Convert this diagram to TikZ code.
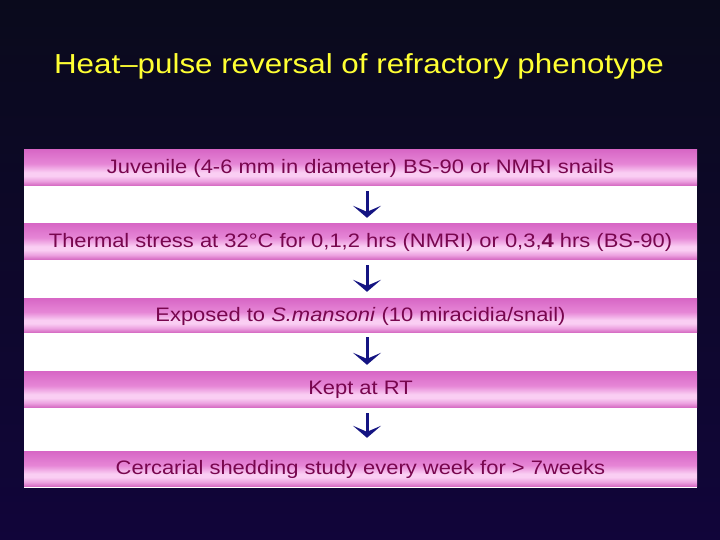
\documentclass[tikz,border=0pt]{standalone}
\usepackage{fontspec}
\setmainfont{Liberation Sans}
\usetikzlibrary{arrows.meta}
\definecolor{bgtop}{RGB}{10,10,28}
\definecolor{bgbot}{RGB}{17,5,58}
\definecolor{titlecol}{RGB}{255,255,51}
\definecolor{txtcol}{RGB}{120,6,78}
\definecolor{arrcol}{RGB}{20,20,130}
\definecolor{ptop}{RGB}{216,104,198}
\definecolor{pmid}{RGB}{230,134,214}
\definecolor{plight}{RGB}{250,206,243}
\definecolor{plow}{RGB}{236,162,224}
\definecolor{pbot}{RGB}{210,98,190}
\pgfdeclareverticalshading{barshade}{100bp}{color(0bp)=(pbot); color(25bp)=(pbot); color(32bp)=(plow); color(39bp)=(plight); color(44bp)=(plight); color(56bp)=(pmid); color(75bp)=(ptop); color(100bp)=(ptop)}
\newcommand{\wide}[1]{\scalebox{1.125}[1]{#1}}
\newcommand{\widet}[1]{\scalebox{1.14}[1]{#1}}
\tikzset{
  bar/.style={shading=barshade, minimum width=673pt, minimum height=35pt, inner sep=0pt,
    text=txtcol, font=\fontsize{19.5}{21}\selectfont},
  arr/.style={draw=arrcol, line width=3pt, -{Stealth[length=12pt, width=28pt, inset=6pt]}},
}
\begin{document}
\begin{tikzpicture}[x=1pt,y=1pt]
\shade[top color=bgtop, bottom color=bgbot] (0,0) rectangle (720,540);
\useasboundingbox (0,0) rectangle (720,540);
\node[text=titlecol, font=\fontsize{27.5}{30}\selectfont] (title) at (359,474) {\widet{Heat–pulse reversal of refractory phenotype}};
\fill[white] (24,52) rectangle (697,390);
\node[bar, minimum height=36pt] (b1) at (360.5,372) {\wide{Juvenile (4-6 mm in diameter) BS-90 or NMRI snails}};
\node[bar, minimum height=36pt] (b2) at (360.5,298) {\wide{Thermal stress at 32°C for 0,1,2 hrs (NMRI) or 0,3,\textbf{4} hrs (BS-90)}};
\node[bar, minimum height=34pt] (b3) at (360.5,224) {\wide{Exposed to \textit{S.mansoni} (10 miracidia/snail)}};
\node[bar, minimum height=36pt] (b4) at (360.5,150) {\wide{Kept at RT}};
\node[bar, minimum height=35pt] (b5) at (360.5,70.5) {\wide{Cercarial shedding study every week for > 7weeks}};
\draw[arr] ([xshift=6.5pt,yshift=-5pt]b1.south) -- ([xshift=6.5pt,yshift=6pt]b2.north);
\draw[arr] ([xshift=6.5pt,yshift=-5pt]b2.south) -- ([xshift=6.5pt,yshift=7pt]b3.north);
\draw[arr] ([xshift=6.5pt,yshift=-4pt]b3.south) -- ([xshift=6.5pt,yshift=7pt]b4.north);
\draw[arr] ([xshift=6.5pt,yshift=-5pt]b4.south) -- ([xshift=6.5pt,yshift=14pt]b5.north);
\end{tikzpicture}
\end{document}
